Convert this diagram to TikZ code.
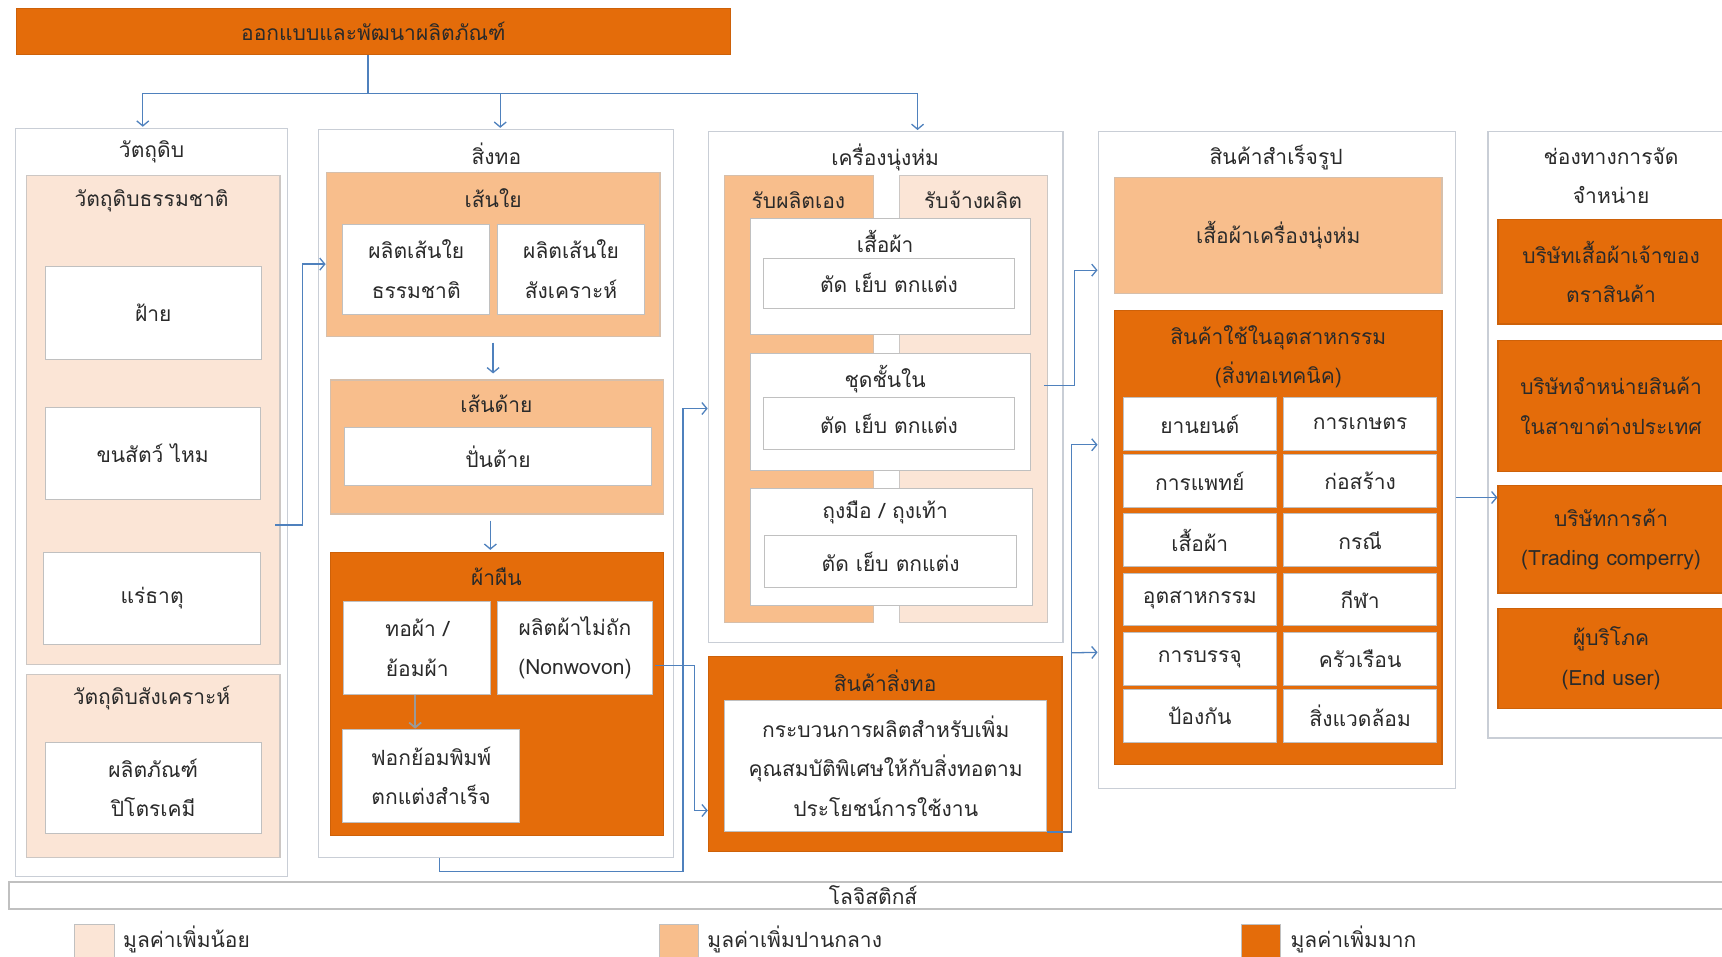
\documentclass[tikz,border=0pt]{standalone}
\usepackage{fontspec}
\newfontfamily\thai[Script=Thai]{Loma}
\usetikzlibrary{fit,calc,arrows.meta}

\definecolor{low}{HTML}{FBE5D6}
\definecolor{mid}{HTML}{F8BE8C}
\definecolor{high}{HTML}{E46C0A}
\definecolor{link}{HTML}{4F81BD}
\definecolor{edge}{HTML}{C0C0C0}
\definecolor{frame}{HTML}{C9CED6}
\definecolor{ink}{HTML}{2A2A2A}

\begin{document}
\begin{tikzpicture}[x=1.0982pt,y=-1.0982pt,
  every node/.style={font=\thai\fontsize{21}{39.5}\selectfont, text=ink, align=center, inner sep=0pt},
  column/.style={draw=frame, line width=1.3pt, fill=white},
  lowbox/.style={draw=edge!80!low, line width=1.1pt, fill=low},
  midbox/.style={draw=edge!60!mid, line width=1.1pt, fill=mid},
  highbox/.style={draw=high!90!black, line width=1.1pt, fill=high},
  cell/.style={draw=edge, line width=1pt, fill=white},
  link/.style={draw=link, line width=1.3pt},
  arr/.style={link, -{Straight Barb[length=5pt,width=12pt]}},
  greyarr/.style={draw=gray!80, line width=1.8pt, -{Straight Barb[length=5pt,width=12pt]}},
  swatch/.style={draw=edge, line width=0.8pt}
]
\useasboundingbox (0,0) rectangle (1568,871);
\clip (0,0) rectangle (1568,871);

% design and development bar
\node[highbox, fit={(15,8) (665,50)}] (design) {};
\node (design-t) at (design) {ออกแบบและพัฒนาผลิตภัณฑ์};

% ---------- raw materials ----------
\node[column, fit={(14,117) (262,798)}] (col1) {};
\node (col1-t) at (138,138) {วัตถุดิบ};
\node[lowbox, fit={(24,160) (255,605)}] (natural) {};
\node (natural-t) at (138,183) {วัตถุดิบธรรมชาติ};
\node[cell, fit={(41,243) (238,327)}] (cotton) {};
\node (cotton-t) at (cotton) {ฝ้าย};
\node[cell, fit={(41,371) (237,455)}] (wool) {};
\node (wool-t) at (wool) {ขนสัตว์ ไหม};
\node[cell, fit={(40,503) (237,587)}] (mineral) {};
\node (mineral-t) at (mineral) {แร่ธาตุ};
\node[lowbox, fit={(24,614) (255,781)}] (synth) {};
\node (synth-t) at (138,636) {วัตถุดิบสังเคราะห์};
\node[cell, fit={(41,676) (238,759)}] (petro) {};
\node (petro-t) at (petro) {ผลิตภัณฑ์\\ปิโตรเคมี};

% ---------- textiles ----------
\node[column, fit={(290,118) (613,781)}] (col2) {};
\node (col2-t) at (452,140) {สิ่งทอ};
\node[midbox, fit={(297,157) (601,306)}] (fiber) {};
\node (fiber-t) at (449,180) {เส้นใย};
\node[cell, fit={(312,204) (446,286)}] (natfiber) {};
\node (natfiber-t) at (natfiber) {ผลิตเส้นใย\\ธรรมชาติ};
\node[cell, fit={(453,204) (587,286)}] (synfiber) {};
\node (synfiber-t) at (synfiber) {ผลิตเส้นใย\\สังเคราะห์};
\node[midbox, fit={(301,346) (604,468)}] (yarn) {};
\node (yarn-t) at (452,368) {เส้นด้าย};
\node[cell, fit={(314,389) (593,442)}] (spin) {};
\node (spin-t) at (spin) {ปั่นด้าย};
\node[highbox, fit={(301,503) (604,761)}] (fabric) {};
\node (fabric-t) at (452,525) {ผ้าผืน};
\node[cell, fit={(313,548) (447,632)}] (weave) {};
\node (weave-t) at (weave) {ทอผ้า /\\ย้อมผ้า};
\node[cell, fit={(453,548) (594,632)}] (nonwoven) {};
\node (nonwoven-t) at (nonwoven) {ผลิตผ้าไม่ถัก\\(Nonwovon)};
\node[cell, fit={(312,664) (473,749)}] (finish) {};
\node (finish-t) at (finish) {ฟอกย้อมพิมพ์\\ตกแต่งสำเร็จ};

% ---------- apparel ----------
\node[column, fit={(645,120) (968,585)}] (col3) {};
\node (col3-t) at (806,143) {เครื่องนุ่งห่ม};
\node[midbox, fit={(660,160) (795,567)}] (own) {};
\node (own-t) at (727,182) {รับผลิตเอง};
\node[lowbox, fit={(819,160) (954,567)}] (contract) {};
\node (contract-t) at (886,182) {รับจ้างผลิต};
\node[cell, fit={(683,199) (938,305)}] (shirt) {};
\node (shirt-t) at (806,220) {เสื้อผ้า};
\node[cell, fit={(695,235) (924,281)}] (shirtsew) {};
\node (shirtsew-t) at (shirtsew) {ตัด เย็บ ตกแต่ง};
\node[cell, fit={(683,322) (938,428)}] (under) {};
\node (under-t) at (806,345) {ชุดชั้นใน};
\node[cell, fit={(695,362) (924,409)}] (undersew) {};
\node (undersew-t) at (undersew) {ตัด เย็บ ตกแต่ง};
\node[cell, fit={(683,445) (940,551)}] (glove) {};
\node (glove-t) at (806,467) {ถุงมือ / ถุงเท้า};
\node[cell, fit={(696,488) (926,535)}] (glovesew) {};
\node (glovesew-t) at (glovesew) {ตัด เย็บ ตกแต่ง};

% textile goods
\node[highbox, fit={(645,598) (967,775)}] (goods) {};
\node (goods-t) at (806,620) {สินค้าสิ่งทอ};
\node[cell, fit={(660,638) (953,757)}] (goodsbody) {};
\node (goodsbody-t) at (goodsbody) {กระบวนการผลิตสำหรับเพิ่ม\\คุณสมบัติพิเศษให้กับสิ่งทอตาม\\ประโยชน์การใช้งาน};

% ---------- finished products ----------
\node[column, fit={(1000,120) (1325,718)}] (col4) {};
\node (col4-t) at (1162,143) {สินค้าสำเร็จรูป};
\node[midbox, fit={(1015,162) (1313,267)}] (garment) {};
\node (garment-t) at (garment) {เสื้อผ้าเครื่องนุ่งห่ม};
\node[highbox, fit={(1015,283) (1313,696)}] (tech) {};
\node (tech-t) at (1164,325) {สินค้าใช้ในอุตสาหกรรม\\(สิ่งทอเทคนิค)};
\node[cell, fit={(1023,362) (1162,410)}] (u1) {};
\node (u1-t) at (u1) {ยานยนต์};
\node[cell, fit={(1169,362) (1308,410)}] (u2) {};
\node (u2-t) at (u2) {การเกษตร};
\node[cell, fit={(1023,414) (1162,462)}] (u3) {};
\node (u3-t) at (u3) {การแพทย์};
\node[cell, fit={(1169,414) (1308,462)}] (u4) {};
\node (u4-t) at (u4) {ก่อสร้าง};
\node[cell, fit={(1023,468) (1162,516)}] (u5) {};
\node (u5-t) at (u5) {เสื้อผ้า};
\node[cell, fit={(1169,468) (1308,516)}] (u6) {};
\node (u6-t) at (u6) {กรณี};
\node[cell, fit={(1023,522) (1162,570)}] (u7) {};
\node (u7-t) at (u7) {อุตสาหกรรม};
\node[cell, fit={(1169,522) (1308,570)}] (u8) {};
\node (u8-t) at (u8) {กีฬา};
\node[cell, fit={(1023,576) (1162,624)}] (u9) {};
\node (u9-t) at (u9) {การบรรจุ};
\node[cell, fit={(1169,576) (1308,624)}] (u10) {};
\node (u10-t) at (u10) {ครัวเรือน};
\node[cell, fit={(1023,628) (1162,676)}] (u11) {};
\node (u11-t) at (u11) {ป้องกัน};
\node[cell, fit={(1169,628) (1308,676)}] (u12) {};
\node (u12-t) at (u12) {สิ่งแวดล้อม};

% ---------- distribution channels ----------
\node[column, fit={(1355,120) (1590,672)}] (col5) {};
\node (col5-t) at (1467,160) {ช่องทางการจัด\\จำหน่าย};
\node[highbox, fit={(1364,200) (1570,295)}] (brand) {};
\node (brand-t) at (brand) {บริษัทเสื้อผ้าเจ้าของ\\ตราสินค้า};
\node[highbox, fit={(1364,310) (1570,429)}] (abroad) {};
\node (abroad-t) at (abroad) {บริษัทจำหน่ายสินค้า\\ในสาขาต่างประเทศ};
\node[highbox, fit={(1364,442) (1570,540)}] (trade) {};
\node (trade-t) at (trade) {บริษัทการค้า\\(Trading comperry)};
\node[highbox, fit={(1364,554) (1570,645)}] (enduser) {};
\node (enduser-t) at (enduser) {ผู้บริโภค\\(End user)};

% ---------- logistics and legend ----------
\node[draw=edge, line width=1.8pt, fill=white, fit={(8,803) (1582,828)}] (logi) {};
\node (logi-t) at (795,815) {โลจิสติกส์};
\node[swatch, fill=low, fit={(68,842) (104,895)}] (keylow) {};
\node[anchor=west] (keylow-t) at (112,855) {มูลค่าเพิ่มน้อย};
\node[swatch, fill=mid, fit={(600,842) (636,895)}] (keymid) {};
\node[anchor=west] (keymid-t) at (644,855) {มูลค่าเพิ่มปานกลาง};
\node[swatch, fill=high, fit={(1130,842) (1166,895)}] (keyhigh) {};
\node[anchor=west] (keyhigh-t) at (1175,855) {มูลค่าเพิ่มมาก};

% ---------- connectors ----------
\coordinate (hub) at (335,85);
\draw[link] (design.south -| hub) -- (hub);
\draw[arr] (hub) -| ($(col1.north)+(-8,-1)$);
\draw[arr] (hub) -| ($(col2.north)+(4,-1)$);
\draw[arr] (hub) -| ($(col3.north)+(29,-1)$);

\draw[arr] ($(natural.east)+(-5,95.5)$) -- ++(25,0) |- ($(fiber.west)+(0,9)$);
\draw[arr, shorten <=6pt, shorten >=6pt] (fiber.south) -- (fiber.south |- yarn.north);
\draw[arr, shorten <=6pt, shorten >=2pt] ($(yarn.south)+(-6,0)$) -- ($(yarn.south |- fabric.north)+(-6,0)$);
\draw[greyarr] ($(weave.south)+(-2,0)$) -- ($(weave.south |- finish.north)+(-2,0)$);

\draw[arr] ($(col2.south)+(-51.5,0)$) -- ++(0,12) -- ++(222,0) |- ($(col3.west)+(0,19.5)$);
\draw[arr] ($(nonwoven.east)+(2,16)$) -- ++(36,0) |- ($(goods.west)+(0,51.5)$);

\draw[arr] ($(contract.east)+(-4,-12.5)$) -- ++(28,0) |- ($(col4.west)+(0,-173)$);
\draw[arr] (goodsbody.south east) -- ++(22,0) |- ($(col4.west)+(0,-14)$);
\draw[arr] ($(goodsbody.south east)+(22,-163)$) -- ($(col4.west)+(0,175)$);

\draw[arr] ($(col4.east)+(0,34)$) coordinate (q) -- (q -| trade.west);
\end{tikzpicture}
\end{document}
